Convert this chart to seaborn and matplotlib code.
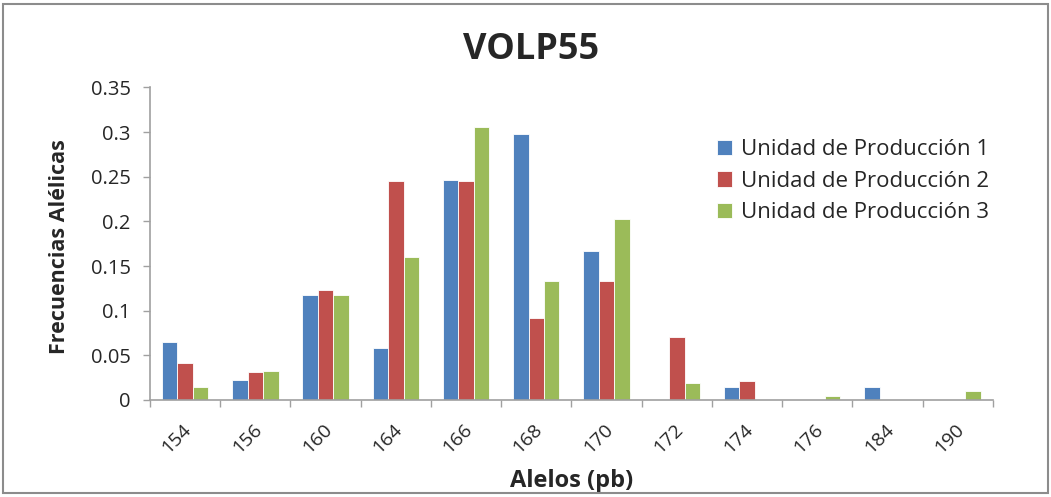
import matplotlib
matplotlib.use("Agg")
import matplotlib.pyplot as plt
import matplotlib.patches as mpatches
from matplotlib.transforms import ScaledTranslation
import seaborn as sns
import pandas as pd

alleles = ["154", "156", "160", "164", "166", "168", "170", "172", "174", "176", "184", "190"]
unit1 = [0.065, 0.022, 0.117, 0.058, 0.246, 0.298, 0.167, 0.0, 0.015, 0.0, 0.015, 0.0]
unit2 = [0.041, 0.031, 0.123, 0.245, 0.245, 0.092, 0.133, 0.071, 0.021, 0.0, 0.0, 0.0]
unit3 = [0.014, 0.033, 0.118, 0.160, 0.306, 0.133, 0.203, 0.019, 0.0, 0.005, 0.0, 0.010]
series_names = ["Unidad de Producción 1", "Unidad de Producción 2", "Unidad de Producción 3"]
colors = ["#4F81BD", "#C0504D", "#9BBB59"]
yticks = [0, 0.05, 0.1, 0.15, 0.2, 0.25, 0.3, 0.35]
ytick_labels = ["0", "0.05", "0.1", "0.15", "0.2", "0.25", "0.3", "0.35"]

rows = []
for name, vals in zip(series_names, [unit1, unit2, unit3]):
    for a, v in zip(alleles, vals):
        rows.append({"Alelo": a, "Frecuencia": v, "Serie": name})
df = pd.DataFrame(rows)

sns.set_theme(style="white")
plt.rcParams["font.family"] = ["Open Sans", "DejaVu Sans"]

fig = plt.figure(figsize=(10.51, 4.97), dpi=100)
ax = fig.add_axes([0.1427, 0.1952, 0.802, 0.629])

sns.barplot(data=df, x="Alelo", y="Frecuencia", hue="Serie", order=alleles,
            hue_order=series_names, palette=colors, width=0.66, saturation=1,
            edgecolor="white", linewidth=0.6, ax=ax)

ax.set_ylim(0, 0.35)
ax.set_xlim(-0.5, len(alleles) - 0.5)
ax.set_yticks(yticks)
ax.set_yticklabels(ytick_labels, fontsize=14.5)
ax.set_xticks(range(len(alleles)))
ax.set_xticklabels(alleles, rotation=45, fontsize=14, ha="center")
ax.tick_params(axis="x", length=0, pad=15)
ax.tick_params(axis="y", length=5, width=1, color="#A0A0A0", direction="out", left=True, pad=9)
ax.set_xticks([i + 0.5 for i in range(-1, len(alleles))], minor=True)
ax.tick_params(axis="x", which="minor", length=5, width=1, color="#A0A0A0", bottom=True)
shift = ScaledTranslation(-6 / 72, 0, fig.dpi_scale_trans)
for lab in ax.get_xticklabels():
    lab.set_transform(lab.get_transform() + shift)

for s in ["top", "right"]:
    ax.spines[s].set_visible(False)
for s in ["left", "bottom"]:
    ax.spines[s].set_color("#A0A0A0")
    ax.spines[s].set_linewidth(1.2)

ax.set_xlabel("Alelos (pb)", fontsize=17, fontweight="bold")
ax.xaxis.set_label_coords(0.5, -0.22)
ax.set_ylabel("Frecuencias Alélicas", fontsize=15.5, fontweight="bold")
ax.yaxis.set_label_coords(-0.095, 0.49)
fig.text(0.505, 0.899, "VOLP55", ha="center", va="center", fontsize=26, fontweight="bold")

leg = ax.legend(loc="upper left", bbox_to_anchor=(0.659, 0.87), frameon=False, borderpad=0,
                fontsize=16, handlelength=0.7, handleheight=0.7, handletextpad=0.4,
                labelspacing=0.48, title=None)

# chart border
fig.patches.append(mpatches.Rectangle((0.003, 0.008), 0.994, 0.984, transform=fig.transFigure,
                                      fill=False, edgecolor="#8C8C8C", linewidth=1.5))

fig.savefig("out.png", dpi=100)
